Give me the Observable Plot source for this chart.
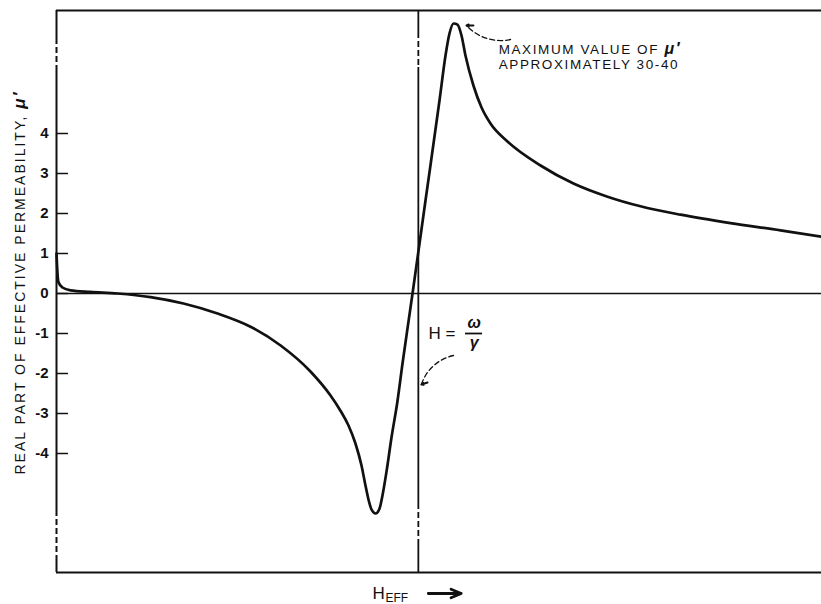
<!DOCTYPE html>
<html><head><meta charset="utf-8">
<script src="https://cdn.jsdelivr.net/npm/d3@7"></script>
<script src="https://cdn.jsdelivr.net/npm/@observablehq/plot@0.6"></script>
<style>body{margin:0;background:#fff}#chart svg{display:block}</style>
</head><body><div id="chart"></div>
<script>
// H_eff in arbitrary units (0 = left edge, 100 = right edge)
const H_EFF = [0, 0.13, 0.26, 0.78, 1.83, 4.44, 7.97, 12.29, 16.6, 21.05, 25.36, 29.3, 33.2, 35.82, 37.12, 38.17, 39.08, 39.87, 40.39, 40.78, 41.18, 41.7, 42.22, 42.61, 43.14, 43.79, 44.58, 45.23, 46.54, 48.24, 50.07, 50.85, 51.37, 51.9, 52.42, 52.94, 53.46, 54.5, 55.56, 56.73, 58.95, 63.27, 67.58, 72.03, 76.34, 81.57, 88.1, 94.64, 100];
// real part of effective permeability as drawn (broken axis above 4 and below -4)
const MU_REAL = [1.0, 0.5, 0.28, 0.15, 0.08, 0.04, 0.0, -0.09, -0.25, -0.5, -0.83, -1.3, -1.95, -2.55, -2.93, -3.3, -3.75, -4.3, -4.8, -5.15, -5.4, -5.5, -5.38, -5.05, -4.45, -3.6, -2.68, -1.75, 0, 2.33, 4.83, 5.95, 6.5, 6.75, 6.72, 6.45, 5.95, 5.2, 4.65, 4.25, 3.8, 3.2, 2.75, 2.42, 2.18, 1.97, 1.76, 1.58, 1.42];
const Y_TICKS = [-4, -3, -2, -1, 0, 1, 2, 3, 4];
const X_DOMAIN = [0, 100];
const Y_DOMAIN = [-6.975, 7.075];
const H_RESONANCE = 47.3;
const LEFT_BREAKS = [[6.375, 5.575], [-5.425, -6.6]];
const RES_BREAKS = [[6.525, 5.65], [-5.25, -6.175]];
const Y_LABEL = "REAL PART OF EFFECTIVE PERMEABILITY, μ′";
const MAX_NOTE = ["MAXIMUM VALUE OF μ′", "APPROXIMATELY 30-40"];
const MAX_NOTE_POS = [{x: 57.8, y: 6.0}, {x: 57.8, y: 5.625}];
const MAX_ARROW = {x1: 59.35, y1: 6.35, x2: 53.6, y2: 6.7};
const RES_ARROW = {x1: 51.9, y1: -1.55, x2: 47.7, y2: -2.275};
const RES_LABEL = {hx: 48.63, hy: -1.0, fx: 54.6, num: "ω", den: "γ", numY: -0.86, denY: -1.09, barX1: 53.46, barX2: 55.69, barY: -1.0};
const X_LABEL = {hx: 41.3, hy: -7.625, sx: 43.0, sy: -7.7, ax1: 48.6, ax2: 52.9, ay: -7.5};

const INK = "#111";
const data = H_EFF.map((h, i) => ({h, mu: MU_REAL[i]}));
function solidSegs(breaks) {
  return [[Y_DOMAIN[1], breaks[0][0]], [breaks[0][1], breaks[1][0]], [breaks[1][1], Y_DOMAIN[0]]];
}

const chart = Plot.plot({
  width: 821, height: 604,
  marginLeft: 56, marginRight: 0, marginTop: 10, marginBottom: 32,
  style: {fontFamily: "'Liberation Sans', sans-serif", background: "#fff", color: INK},
  x: {domain: X_DOMAIN, axis: null},
  y: {domain: Y_DOMAIN, axis: null},
  marks: [
    Plot.ruleY([0], {stroke: INK, strokeWidth: 1.6}),
    Plot.ruleY([Y_DOMAIN[1]], {stroke: INK, strokeWidth: 2}),
    Plot.ruleY([Y_DOMAIN[0]], {stroke: INK, strokeWidth: 2}),
    Plot.ruleX(solidSegs(LEFT_BREAKS), {x: () => X_DOMAIN[0], y1: d => d[0], y2: d => d[1], stroke: INK, strokeWidth: 2}),
    Plot.ruleX(LEFT_BREAKS, {x: () => X_DOMAIN[0], y1: d => d[0], y2: d => d[1], stroke: INK, strokeWidth: 2, strokeDasharray: "6,3"}),
    Plot.ruleX(solidSegs(RES_BREAKS), {x: () => H_RESONANCE, y1: d => d[0], y2: d => d[1], stroke: INK, strokeWidth: 1.8}),
    Plot.ruleX(RES_BREAKS, {x: () => H_RESONANCE, y1: d => d[0], y2: d => d[1], stroke: INK, strokeWidth: 1.8, strokeDasharray: "6,3"}),
    Plot.ruleY(Y_TICKS, {stroke: INK, strokeWidth: 1.5, insetRight: 765 - 12}),
    Plot.axisY(Y_TICKS, {anchor: "left", tickSize: 0, tickPadding: 8, tickFormat: d => String(d), fontSize: 15, fontWeight: "bold", label: null, fill: INK}),
    Plot.line(data, {x: "h", y: "mu", curve: "monotone-x", stroke: INK, strokeWidth: 2.7}),
    Plot.text([Y_LABEL], {frameAnchor: "left", textAnchor: "middle", rotate: -90, dx: -36, dy: -9, fontSize: 14, fill: INK}),
    Plot.text(MAX_NOTE, {x: (d, i) => MAX_NOTE_POS[i].x, y: (d, i) => MAX_NOTE_POS[i].y, text: d => d, textAnchor: "start", lineAnchor: "bottom", fontSize: 13.5, fill: INK}),
    Plot.arrow([MAX_ARROW], {x1: "x1", y1: "y1", x2: "x2", y2: "y2", bend: 30, headLength: 0, stroke: INK, strokeWidth: 1.3, strokeDasharray: "5,3"}),
    Plot.arrow([MAX_ARROW], {x1: d => d.x2 + 0.9, y1: "y2", x2: "x2", y2: "y2", headLength: 9, headAngle: 50, stroke: INK, strokeWidth: 2}),
    Plot.text(["H ="], {x: RES_LABEL.hx, y: RES_LABEL.hy, textAnchor: "start", lineAnchor: "middle", fontSize: 17, fill: INK}),
    Plot.text([RES_LABEL.num], {x: RES_LABEL.fx, y: RES_LABEL.numY, lineAnchor: "bottom", fontSize: 16, fontWeight: "bold", fontStyle: "italic", fill: INK}),
    Plot.text([RES_LABEL.den], {x: RES_LABEL.fx, y: RES_LABEL.denY, lineAnchor: "top", fontSize: 16, fontWeight: "bold", fontStyle: "italic", fill: INK}),
    Plot.ruleY([RES_LABEL.barY], {x1: RES_LABEL.barX1, x2: RES_LABEL.barX2, stroke: INK, strokeWidth: 1.8}),
    Plot.arrow([RES_ARROW], {x1: "x1", y1: "y1", x2: "x2", y2: "y2", bend: -30, headLength: 0, stroke: INK, strokeWidth: 1.3, strokeDasharray: "5,3"}),
    Plot.arrow([RES_ARROW], {x1: d => d.x2 + 0.8, y1: d => d.y2 + 0.05, x2: "x2", y2: "y2", headLength: 9, headAngle: 50, stroke: INK, strokeWidth: 2}),
    Plot.text(["H"], {x: X_LABEL.hx, y: X_LABEL.hy, textAnchor: "start", lineAnchor: "bottom", fontSize: 17, fill: INK}),
    Plot.text(["EFF"], {x: X_LABEL.sx, y: X_LABEL.sy, textAnchor: "start", lineAnchor: "bottom", fontSize: 12, fill: INK}),
    Plot.arrow([X_LABEL], {x1: "ax1", y1: "ay", x2: "ax2", y2: "ay", headLength: 9, headAngle: 45, stroke: INK, strokeWidth: 2.8})
  ]
});
document.getElementById("chart").appendChild(chart);

// typographic touches: letter spacing and bold italic μ′
chart.querySelectorAll("text").forEach(t => {
  const s = t.textContent;
  if (s === Y_LABEL || MAX_NOTE.includes(s)) {
    t.style.letterSpacing = s === Y_LABEL ? "2px" : "1.6px";
    if (s.includes("μ′")) {
      t.textContent = s.replace("μ′", "");
      const ts = document.createElementNS("http://www.w3.org/2000/svg", "tspan");
      ts.textContent = "μ′";
      ts.setAttribute("font-style", "italic");
      ts.setAttribute("font-weight", "bold");
      ts.setAttribute("font-size", s === Y_LABEL ? "17" : "16");
      t.appendChild(ts);
    }
  }
});
</script></body></html>
